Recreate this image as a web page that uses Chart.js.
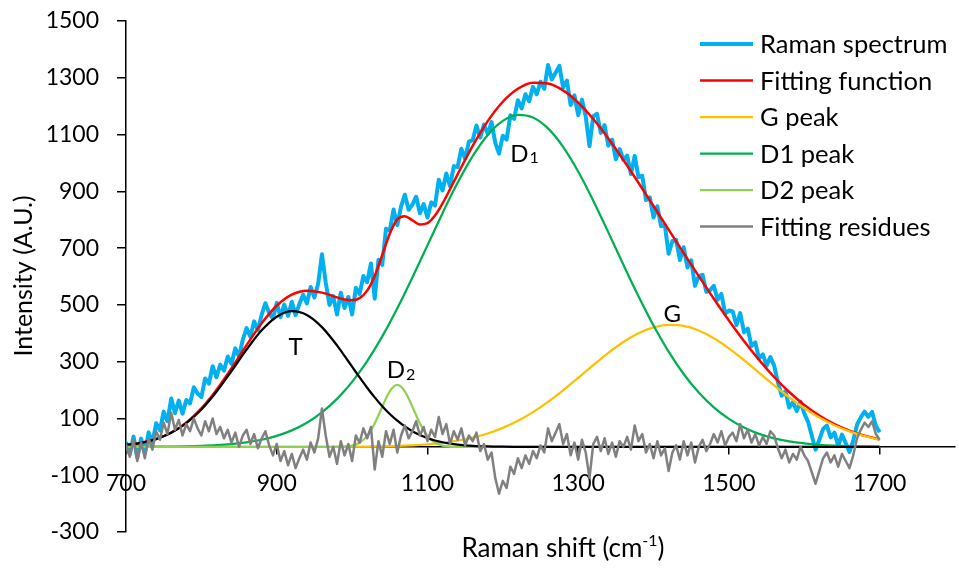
<!DOCTYPE html>
<html>
<head>
<meta charset="utf-8">
<script src="https://cdn.jsdelivr.net/npm/chart.js@4.4.1/dist/chart.umd.min.js"></script>
<style>
  body { margin: 0; background: #fff; }
  #wrap { width: 959px; height: 575px; }
</style>
</head>
<body>
<div id="wrap"><canvas id="ramanChart" width="959" height="575"></canvas></div>
<script>
// measured spectrum, one value every 5 cm-1 from 700 to 1700
const specStart = 700;
const specStep = 5;
const ramanSpectrum = [
    17, -26, 36, -38, 29, -22, 51, 14, 83, 58,
    124, 90, 170, 119, 163, 117, 165, 153, 210, 188,
    175, 241, 223, 284, 245, 289, 268, 318, 292, 347,
    318, 378, 418, 388, 442, 411, 465, 506, 471, 452,
    507, 457, 501, 461, 511, 464, 503, 536, 505, 563,
    526, 575, 678, 579, 500, 531, 466, 543, 489, 528,
    466, 560, 539, 602, 580, 646, 522, 659, 641, 768,
    761, 836, 781, 847, 888, 835, 853, 881, 823, 855,
    808, 861, 850, 941, 903, 963, 918, 989, 985, 1050,
    1015, 1075, 1080, 1132, 1089, 1135, 1102, 1144, 1071, 1033,
    1096, 1082, 1168, 1155, 1221, 1192, 1242, 1217, 1268, 1242,
    1286, 1261, 1345, 1294, 1318, 1342, 1266, 1290, 1204, 1238,
    1168, 1223, 1164, 1059, 1165, 1173, 1106, 1133, 1061, 1082,
    1013, 1049, 1011, 1026, 961, 1025, 950, 955, 869, 879,
    808, 847, 777, 781, 680, 725, 729, 658, 703, 632,
    657, 567, 601, 606, 546, 552, 567, 518, 539, 469,
    480, 477, 429, 471, 403, 416, 355, 368, 311, 326,
    286, 316, 286, 228, 180, 196, 138, 157, 126, 159,
    118, 88, 39, -10, 25, 63, 75, 33, 50, 4,
    43, 13, -18, 22, 78, 104, 124, 106, 123, 74,
    51
];
const fittingResidues = [
    10, -35, 25, -50, 15, -40, 30, -10, 55, 25,
    85, 45, 120, 60, 95, 40, 80, 55, 100, 65,
    40, 90, 55, 100, 45, 70, 30, 60, 15, 50,
    0, 40, 60, 10, 45, -5, 30, 55, 5, -30,
    10, -50, -15, -65, -25, -75, -40, -10, -45, 15,
    -20, 30, 135, 40, -35, 0, -60, 20, -30, 10,
    -50, 40, 15, 65, 30, 70, -80, 20, -35, 55,
    10, 60, -20, 40, 75, 30, 55, 90, 40, 70,
    20, 60, 35, 105, 45, 80, 10, 55, 25, 65,
    5, 40, 20, 50, -15, 10, -45, -20, -110, -165,
    -120, -145, -70, -95, -40, -75, -30, -60, -15, -40,
    5, -20, 65, 20, 50, 80, 10, 45, -30, 15,
    -45, 25, -20, -110, 10, 35, -15, 30, -25, 15,
    -35, 20, 0, 35, -10, 75, 20, 45, -20, 10,
    -40, 20, -30, -5, -85, -20, 5, -45, 20, -30,
    15, -55, 0, 25, -15, 10, 45, 15, 55, 5,
    35, 50, 20, 80, 30, 60, 15, 45, 5, 35,
    10, 55, 40, -5, -40, -10, -55, -25, -45, 0,
    -30, -50, -90, -130, -85, -40, -20, -55, -30, -70,
    -25, -50, -75, -30, 30, 60, 85, 70, 90, 45,
    25
];

// fitted curves, all on the same shift grid
const fitShift = [
    700, 720, 740, 760, 780, 800, 820, 840, 860, 880, 900, 920, 940, 960, 980,
    990, 1000, 1010, 1020, 1030, 1040, 1050, 1060, 1070, 1080, 1090, 1100, 1110, 1120, 1130, 1140,
    1160, 1180, 1200, 1220, 1240, 1260, 1280, 1300, 1320, 1340, 1360, 1380, 1400, 1420,
    1440, 1460, 1480, 1500, 1520, 1540, 1560, 1580, 1600, 1620, 1640, 1660, 1680, 1700
];
const fittingFunction = [
    6.9, 14.3, 27.8, 50.4, 85.3, 135.2, 200.0, 276.8, 358.4, 435.2, 496.9, 535.8, 549.7, 543.1, 526.4,
    519.0, 516.1, 523.7, 550.1, 601.9, 675.6, 750.8, 801.0, 812.6, 797.9, 783.1, 787.7, 814.7, 857.5, 907.6, 959.7,
    1059.9, 1147.2, 1215.5, 1261.2, 1282.5, 1280.0, 1255.5, 1212.6, 1154.7, 1086.2, 1010.5, 930.4, 848.2, 765.1,
    682.5, 601.1, 521.6, 445.3, 373.0, 306.3, 246.0, 193.1, 147.8, 110.3, 80.1, 56.7, 39.1, 26.1
];
const gPeak = [
    0, 0, 0, 0, 0, 0, 0, 0, 0, 0, 0, 0, 0, 0, 0.3,
    0.4, 0.5, 0.7, 1.0, 1.4, 1.8, 2.4, 3.1, 4.1, 5.3, 6.8, 8.7, 11.0, 13.9, 17.3, 21.5,
    32.3, 47.1, 66.7, 91.6, 122.2, 158.3, 199.0, 242.9, 287.7, 330.8, 369.3, 400.2, 420.9, 429.7,
    425.9, 409.8, 382.7, 347.0, 305.3, 260.8, 216.2, 174.1, 136.0, 103.2, 75.9, 54.3, 37.7, 25.4
];
const d1Peak = [
    0.2, 0.3, 0.6, 1.1, 1.9, 3.4, 5.8, 9.7, 15.7, 24.9, 38.5, 58.0, 84.9, 121.3, 168.8,
    197.2, 228.9, 263.9, 302.3, 344.1, 389.2, 437.1, 487.9, 541.1, 596.1, 652.5, 709.6, 766.7, 823.1, 877.9, 930.2,
    1024.1, 1098.6, 1148.2, 1169.4, 1160.3, 1121.7, 1056.5, 969.7, 867.0, 755.4, 641.2, 530.2, 427.3, 335.4,
    256.6, 191.3, 138.9, 98.3, 67.7, 45.5, 29.8, 19.0, 11.8, 7.1, 4.2, 2.4, 1.4, 0.7
];
const d2Peak = [
    0, 0, 0, 0, 0, 0, 0, 0, 0, 0, 0, 0, 0, 0, 0,
    1.1, 4.4, 14.6, 38.6, 82.3, 141.4, 195.6, 218, 195.6, 141.4, 82.3, 38.6, 14.6, 4.4, 1.1, 0.2,
    0, 0, 0, 0, 0, 0, 0, 0, 0, 0, 0, 0, 0, 0,
    0, 0, 0, 0, 0, 0, 0, 0, 0, 0, 0, 0, 0, 0
];
const tPeak = [
    6.7, 14.0, 27.2, 49.3, 83.4, 131.8, 194.2, 267.1, 342.7, 410.3, 458.4, 477.8, 464.8, 421.8, 357.3,
    320.3, 282.3, 244.5, 208.2, 174.1, 143.2, 115.7, 92.0, 71.8, 55.1, 41.5, 30.8, 22.4, 16.1, 11.3, 7.8,
    3.5, 1.5, 0.6, 0.2, 0, 0, 0, 0, 0, 0, 0, 0, 0, 0,
    0, 0, 0, 0, 0, 0, 0, 0, 0, 0, 0, 0, 0, 0
];

const xTicks = [700, 900, 1100, 1300, 1500, 1700];
const yTicks = [-300, -100, 100, 300, 500, 700, 900, 1100, 1300, 1500];

// peak names written next to the curves (data units)
const peakLabels = [
    { name: "T", sub: "", x: 925, y: 353 },
    { name: "D", sub: "2", x: 1058, y: 271 },
    { name: "D", sub: "1", x: 1222, y: 1034 },
    { name: "G", sub: "", x: 1425, y: 471 }
];

const fontFamily = "Lato, 'Open Sans', sans-serif";
Chart.defaults.font.family = fontFamily;
Chart.defaults.font.size = 23;
Chart.defaults.color = "#000";

const specPoints = (ys) => ys.map((v, i) => ({ x: specStart + i * specStep, y: v }));
const fitPoints = (ys) => ys.map((v, i) => ({ x: fitShift[i], y: v }));

function makeLine(label, data, color, width, order, smooth, inLegend) {
    return {
        label: label,
        data: data,
        borderColor: color,
        backgroundColor: color,
        borderWidth: width,
        pointRadius: 0,
        fill: false,
        order: order,
        tension: 0,
        cubicInterpolationMode: smooth ? "monotone" : "default",
        borderJoinStyle: "round",
        inLegend: inLegend
    };
}

// draws legend, peak names and axis titles
const textPlugin = {
    id: "ramanText",
    afterDraw(chart) {
        const ctx = chart.ctx;
        const xs = chart.scales.x;
        const ys = chart.scales.y;
        ctx.save();
        ctx.fillStyle = "#000";

        // peak names
        peakLabels.forEach(p => {
            const px = xs.getPixelForValue(p.x);
            const py = ys.getPixelForValue(p.y);
            ctx.font = "24px " + fontFamily;
            ctx.textAlign = "center";
            ctx.textBaseline = "alphabetic";
            const w = ctx.measureText(p.name).width;
            ctx.fillText(p.name, px, py + 8.5);
            if (p.sub) {
                ctx.font = "16px " + fontFamily;
                ctx.textAlign = "left";
                ctx.fillText(p.sub, px + w / 2 + 1, py + 10);
            }
        });

        // legend
        const items = chart.data.datasets.filter(d => d.inLegend);
        items.forEach((d, i) => {
            const cy = 44 + i * 36.5;
            ctx.strokeStyle = d.borderColor;
            ctx.lineWidth = d.borderWidth;
            ctx.beginPath();
            ctx.moveTo(700, cy);
            ctx.lineTo(753, cy);
            ctx.stroke();
            ctx.font = "25.5px " + fontFamily;
            ctx.textAlign = "left";
            ctx.textBaseline = "alphabetic";
            ctx.fillText(d.label, 760, cy + 9);
        });

        // x title with superscript
        ctx.font = "26px " + fontFamily;
        const main = "Raman shift (cm";
        const wMain = ctx.measureText(main).width;
        const wClose = ctx.measureText(")").width;
        ctx.font = "16px " + fontFamily;
        const wSup = ctx.measureText("-1").width;
        let tx = 563 - (wMain + wSup + wClose) / 2;
        ctx.textAlign = "left";
        ctx.font = "26px " + fontFamily;
        ctx.fillText(main, tx, 557);
        tx += wMain;
        ctx.font = "16px " + fontFamily;
        ctx.fillText("-1", tx, 546);
        tx += wSup;
        ctx.font = "26px " + fontFamily;
        ctx.fillText(")", tx, 557);

        // y title
        ctx.translate(32, 276);
        ctx.rotate(-Math.PI / 2);
        ctx.textAlign = "center";
        ctx.font = "25px " + fontFamily;
        ctx.fillText("Intensity (A.U.)", 0, 0);
        ctx.restore();
    }
};

new Chart(document.getElementById("ramanChart"), {
    type: "line",
    data: {
        datasets: [
            makeLine("Raman spectrum", specPoints(ramanSpectrum), "#00B0F0", 4, 7, false, true),
            makeLine("Fitting function", fitPoints(fittingFunction), "#FF0000", 2.5, 6, true, true),
            makeLine("G peak", fitPoints(gPeak), "#FFC000", 2.25, 5, true, true),
            makeLine("D1 peak", fitPoints(d1Peak), "#00B050", 2.25, 4, true, true),
            makeLine("D2 peak", fitPoints(d2Peak), "#92D050", 2.25, 3, true, true),
            makeLine("Fitting residues", specPoints(fittingResidues), "#808080", 2.5, 1, false, true),
            makeLine("T peak", fitPoints(tPeak), "#000000", 2.25, 2, true, false)
        ]
    },
    options: {
        responsive: false,
        animation: false,
        layout: { padding: { top: 21, right: 4, bottom: 43, left: 0 } },
        plugins: {
            legend: { display: false },
            tooltip: { enabled: false }
        },
        scales: {
            x: {
                type: "linear",
                position: { y: 0 },
                min: 700,
                max: 1800,
                afterBuildTicks: (s) => { s.ticks = xTicks.map(v => ({ value: v })); },
                ticks: { autoSkip: false, maxRotation: 0, padding: 16, callback: (v) => String(v) },
                grid: { drawOnChartArea: false, drawTicks: true, tickLength: 7, color: "#000", lineWidth: 1.5 },
                border: { display: true, color: "#000", width: 1.5 }
            },
            y: {
                type: "linear",
                position: "left",
                min: -300,
                max: 1500,
                afterBuildTicks: (s) => { s.ticks = yTicks.map(v => ({ value: v })); },
                afterFit: (s) => {
                    s.width = 126;
                    s.paddingTop = 0;
                    s.paddingBottom = 0;
                },
                ticks: { padding: 18, callback: (v) => String(v) },
                grid: { drawOnChartArea: false, drawTicks: true, tickLength: 9, color: "#000", lineWidth: 1.5 },
                border: { display: true, color: "#000", width: 1.5 }
            }
        }
    },
    plugins: [textPlugin]
});
</script>
</body>
</html>
